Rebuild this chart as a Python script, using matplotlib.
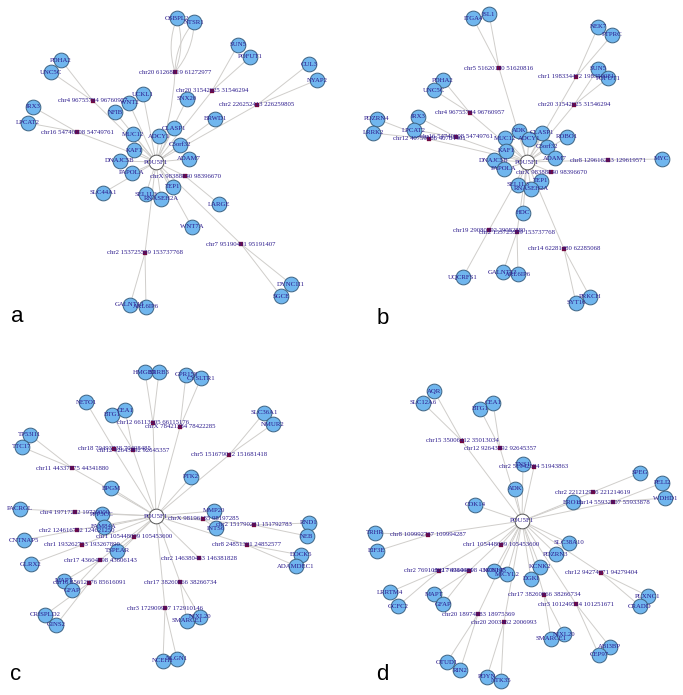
import matplotlib
matplotlib.use("Agg")
import matplotlib.pyplot as plt
from matplotlib.patches import FancyArrowPatch

# Panel a
a_center = (156, 162)
a_peaks = ["chr20 61268819 61272977", "chr20 31542025 31546294", "chr2 226252413 226259805",
           "chr4 96755784 96760957", "chr16 54740908 54749761", "chrX 98388840 98396670",
           "chr7 95190401 95191407", "chr2 153725589 153737768"]
a_peak_x = [175, 212, 257, 93, 77, 185, 241, 145]
a_peak_y = [72, 91, 105, 101, 132, 176, 244, 253]
a_genes = ["OSBPL2", "NTSR1", "SUN5", "POFUT1", "CUL3", "NYAP2", "PDHA2", "UNC5C", "IRX3", "LPCAT2",
           "UCKL1", "WNT2", "NFIB", "SNX20", "BRWD1", "MUC12", "ADCY1", "CLASP1", "C3orf32", "KAF1",
           "ADAM7", "DNAJC5B", "PAPOLA", "SLC44A1", "SEL1L3", "RNASEH2A", "TEP1", "LARGE", "WNT7A",
           "DYNC1I1", "SGCE", "GALNT13", "ARL6IP6"]
a_gene_x = [177, 194, 238, 250, 309, 317, 61, 51, 33, 28, 143, 129, 115, 187, 215, 133, 159, 174, 180,
            134, 189, 120, 132, 103, 146, 161, 173, 219, 192, 291, 281, 130, 146]
a_gene_y = [18, 22, 45, 57, 64, 80, 60, 72, 107, 123, 94, 103, 112, 99, 119, 134, 136, 128, 145, 150,
            159, 161, 173, 193, 194, 199, 187, 204, 227, 284, 296, 305, 307]
a_gene_peak = [0, 0, 1, 1, 2, 2, 3, 3, 4, 4, -1, -1, -1, -1, -1, -1, -1, -1, -1, -1,
               -1, -1, -1, -1, -1, -1, -1, 5, -1, 6, 6, 7, 7]

# Panel b
b_center = (527, 162)
b_peaks = ["chr5 51620100 51620816", "chr1 198334472 198350081", "chr20 31542025 31546294",
           "chr4 96755784 96760957", "chr12 40759188 40784401", "chr16 54740908 54749761",
           "chr8 129616283 129619571", "chrX 98388840 98396670", "chr19 29080392 29082880",
           "chr2 153725589 153737768", "chr14 62281480 62285068"]
b_peak_x = [499, 576, 574, 470, 429, 456, 608, 551, 489, 517, 564]
b_peak_y = [68, 77, 105, 113, 139, 137, 160, 172, 230, 232, 249]
b_genes = ["ITGA4", "ISL1", "NEK7", "PTPRC", "SUN5", "POFUT1", "PDHA2", "UNC5C", "PDZRN4", "LRRK2",
           "IRX3", "LPCAT2", "ADK", "MUC12", "ADCY1", "CLASP1", "ROBO1", "C3orf32", "KAF1", "ADAM7",
           "DNAJC5B", "PAPOLA", "MYC", "TEP1", "SEL1L3", "RNASEH2A", "HDC", "UQCRFS1", "GALNT13",
           "ARL6IP6", "SYT16", "PRKCH"]
b_gene_x = [473, 489, 598, 612, 598, 608, 443, 434, 377, 373, 418, 414, 519, 505, 529, 542, 567, 547,
            506, 555, 494, 504, 662, 541, 518, 531, 523, 463, 503, 518, 576, 590]
b_gene_y = [18, 14, 27, 35, 69, 78, 80, 90, 119, 133, 117, 130, 131, 138, 139, 133, 137, 147, 151,
            158, 160, 169, 159, 181, 185, 189, 213, 277, 272, 274, 303, 297]
b_gene_peak = [0, 0, 1, 1, 2, 2, 3, 3, 4, 4, 5, 5, -1, -1, -1, -1, -1, -1, -1, -1,
               -1, -1, 6, -1, -1, -1, -1, 8, 9, 9, 10, 10]

# Panel c
c_center = (156, 516)
c_peaks = ["chr12 66113205 66115176", "chrX 78421384 78422285", "chr18 70493738 70498485",
           "chr12 92643492 92645357", "chr11 44337075 44341880", "chr5 151679012 151681418",
           "chr4 19717262 19720000", "chrX 98196185 98197285", "chr2 124616752 124621250",
           "chr1 193262753 193267890", "chr1 105448009 105453600", "chr17 43604098 43606143",
           "chr16 85612076 85616091", "chr2 146380463 146381828", "chr17 38260866 38266734",
           "chr3 172909907 172910146", "chr2 151790281 151792783", "chr8 24851391 24852577"]
c_peak_x = [153, 180, 114, 133, 72, 229, 75, 203, 77, 82, 134, 100, 89, 199, 180, 165, 254, 247]
c_peak_y = [423, 427, 449, 450, 468, 455, 512, 519, 530, 545, 537, 560, 583, 558, 582, 608, 525, 545]
c_genes = ["HMGB3", "ERRB3", "GPR158", "CYSLTR1", "NETO1", "BTG1", "CEA1", "TP53I11", "TTC17", "SLC36A1",
           "NMUR2", "PTK2", "BPGM", "PACRGL", "PPP3CC", "MMP20", "INTS6", "FAM84A", "CNTNAP5", "GLRX2",
           "TSPEAR", "MAPT", "GFAP", "CRISPLD2", "GINS2", "SMARCE1", "NIXL20", "NCEH1", "NLGN1",
           "RND1", "NEB", "DOCK5", "ADAMDEC1"]
c_gene_x = [145, 159, 186, 201, 86, 112, 125, 30, 22, 264, 273, 191, 111, 20, 102, 214, 216, 104, 24,
            31, 117, 64, 72, 45, 56, 187, 200, 163, 177, 309, 307, 301, 296]
c_gene_y = [372, 372, 375, 378, 402, 415, 410, 435, 447, 413, 424, 477, 488, 509, 514, 511, 528, 527,
            540, 564, 551, 581, 590, 615, 625, 621, 617, 661, 659, 523, 536, 555, 566]
c_gene_peak = [0, 0, 1, 1, 2, 3, 3, 4, 4, 5, 5, -1, -1, 6, -1, -1, 7, -1, 8, 9, 10, 11, 11, 12, 12,
               14, 14, 15, 15, 16, 16, 17, 17]

# Panel d
d_center = (522, 521)
d_peaks = ["chr15 35006412 35013034", "chr12 92643492 92645357", "chr2 51942584 51943863",
           "chr2 221212976 221214619", "chr14 55932807 55933878", "chr8 109992787 109994287",
           "chr1 105448009 105453600", "chr12 94274371 94279404", "chr2 76910882 76914621",
           "chr17 43604098 43606143", "chr17 38260866 38266734", "chr3 101249514 101251671",
           "chr20 18974883 18975369", "chr20 2003462 2006993"]
d_peak_x = [462, 500, 534, 593, 613, 428, 501, 601, 439, 469, 544, 576, 478, 504]
d_peak_y = [441, 448, 467, 492, 502, 535, 545, 573, 571, 571, 595, 604, 614, 622]
d_genes = ["AQR", "SLC12A6", "BTG1", "CEA1", "TNS1", "ADK", "CDK14", "SPEG", "PELI2", "WDHD1", "ERO1L",
           "TRHR", "EIF3E", "SLC38A10", "PDZRN3", "KCNK2", "DGKI", "PLXNC1", "CRADD", "LRRTM4", "GCFC2",
           "MAPT", "GFAP", "KCNH7", "MICYL2", "SMARCE1", "NIXL20", "ABI3BP", "CEP97", "OTUD1", "RIN2",
           "PDYN", "NTK35"]
d_gene_x = [434, 423, 480, 493, 523, 515, 475, 640, 662, 665, 573, 375, 377, 569, 556, 540, 531, 648,
            640, 390, 398, 434, 443, 494, 507, 551, 564, 610, 599, 447, 460, 487, 501]
d_gene_y = [391, 403, 409, 403, 464, 489, 505, 473, 483, 498, 502, 533, 551, 543, 554, 567, 579, 596,
            606, 592, 606, 594, 604, 571, 574, 639, 634, 647, 655, 662, 670, 677, 681]
d_gene_peak = [0, 0, 1, 1, -1, -1, -1, 3, 4, 4, -1, 5, 5, -1, -1, -1, -1, 7, 7, 8, 8, 9, 9, -1, -1,
               10, 10, 11, 11, 12, 12, 13, 13]

panel_letters = ["a", "b", "c", "d"]
letter_x = [17, 383, 16, 382]
letter_y = [317, 318, 674, 675]

EDGE = "#d0cecb"
TXT = "#2b1a8c"
FILL = "#70b6ee"
NODE_EDGE = "#3d6383"
PEAK = "#74093f"
NODE_S = 10.6
SERIF = "Liberation Serif"

fig = plt.figure(figsize=(6.83, 6.95), dpi=100)
ax = fig.add_axes([0, 0, 1, 1])
ax.set_xlim(0, 683)
ax.set_ylim(695, 0)
ax.axis("off")


def link(p, q, rad=0.0, lw=0.7):
    ax.add_patch(FancyArrowPatch(p, q, arrowstyle="-", shrinkA=0, shrinkB=0, color=EDGE, lw=lw,
                                 connectionstyle=f"arc3,rad={rad}", zorder=1))


def panel(center, peaks, px, py, genes, gx, gy, gp, curved=()):
    for i, (x, y) in enumerate(zip(px, py)):
        link(center, (x, y), 0.08 if i in curved else 0.0)
    for x, y, p in zip(gx, gy, gp):
        if p < 0:
            link(center, (x, y))
        elif p in curved:
            link((px[p], py[p]), (x, y), 0.18)
            link((px[p], py[p]), (x, y), -0.18)
        else:
            link((px[p], py[p]), (x, y))
    ax.plot(gx, gy, "o", ms=NODE_S, mfc=FILL, mec=NODE_EDGE, mew=0.7, zorder=3, ls="none")
    ax.plot([center[0]], [center[1]], "o", ms=NODE_S, mfc="white", mec="#555555", mew=0.7, zorder=3)
    ax.plot(px, py, "s", ms=2.6, mfc=PEAK, mec=PEAK, mew=0.2, zorder=4, ls="none")
    for n, x, y in zip(genes, gx, gy):
        ax.text(x, y, n, fontsize=4.9, family=SERIF, color=TXT, ha="center", va="center", zorder=5)
    for n, x, y in zip(peaks, px, py):
        ax.text(x, y, n, fontsize=4.9, family=SERIF, color=TXT, ha="center", va="center", zorder=5)
    ax.text(center[0], center[1], "POU5F1", fontsize=4.9, family=SERIF, color=TXT,
            ha="center", va="center", zorder=5)


panel(a_center, a_peaks, a_peak_x, a_peak_y, a_genes, a_gene_x, a_gene_y, a_gene_peak, curved=(0,))
panel(b_center, b_peaks, b_peak_x, b_peak_y, b_genes, b_gene_x, b_gene_y, b_gene_peak)
panel(c_center, c_peaks, c_peak_x, c_peak_y, c_genes, c_gene_x, c_gene_y, c_gene_peak)
panel(d_center, d_peaks, d_peak_x, d_peak_y, d_genes, d_gene_x, d_gene_y, d_gene_peak)

for s, x, y in zip(panel_letters, letter_x, letter_y):
    ax.text(x, y, s, fontsize=16, family="Liberation Sans", color="black", ha="center", va="center")

fig.savefig("out.png", dpi=100, facecolor="white")
